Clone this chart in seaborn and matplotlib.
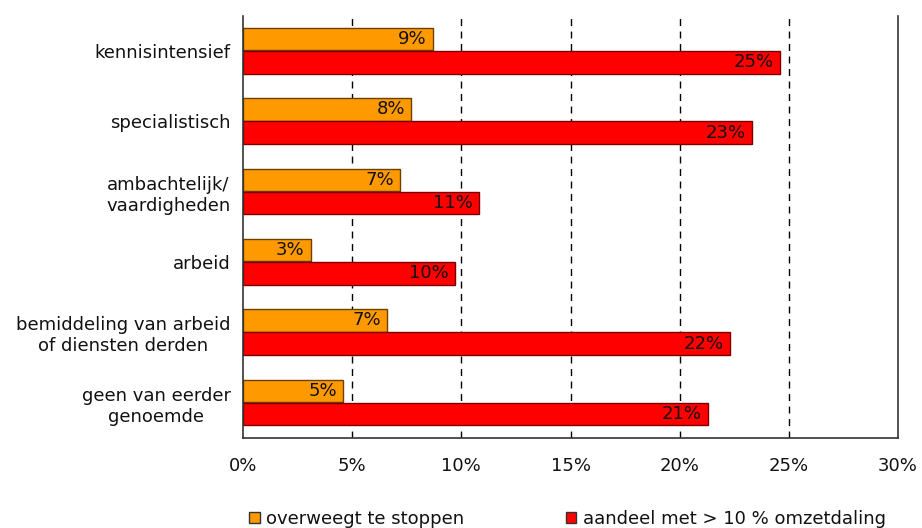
import matplotlib
matplotlib.use("Agg")
import matplotlib.pyplot as plt
import matplotlib.ticker as ticker
from matplotlib.patches import Patch
import seaborn as sns
import pandas as pd

# data
categories = ["kennisintensief", "specialistisch", "ambachtelijk/\nvaardigheden",
              "arbeid", "bemiddeling van arbeid\nof diensten derden",
              "geen van eerder\ngenoemde"]
stoppen = [8.7, 7.7, 7.2, 3.1, 6.6, 4.6]
omzetdaling = [24.6, 23.3, 10.8, 9.7, 22.3, 21.3]
series = ["overweegt te stoppen", "aandeel met > 10 % omzetdaling"]
xticks = [0, 5, 10, 15, 20, 25, 30]

df = pd.DataFrame({
    "cat": categories * 2,
    "serie": [series[0]] * len(categories) + [series[1]] * len(categories),
    "val": stoppen + omzetdaling,
})

palette = {series[0]: "#FF9900", series[1]: "#FF0000"}
edges = {series[0]: "#6b4000", series[1]: "#7a0000"}
txt = "#111111"

sns.set_style("white")
plt.rcParams['font.family'] = ['DejaVu Sans']
plt.rcParams['text.color'] = txt
plt.rcParams['xtick.color'] = "#333333"
plt.rcParams['ytick.color'] = "#333333"
plt.rcParams['xtick.labelcolor'] = txt
plt.rcParams['ytick.labelcolor'] = txt

fig = plt.figure(figsize=(9.22, 5.28), dpi=100)
ax = fig.add_axes([0.2636, 0.1705, 0.974 - 0.2636, 0.970 - 0.1705])

sns.barplot(data=df, y="cat", x="val", hue="serie", order=categories,
            hue_order=series, palette=palette, orient="h", width=0.66,
            legend=False, ax=ax, saturation=1)

# bar edges + value labels at the bar end
for cont, s in zip(ax.containers, series):
    for b in cont:
        b.set_edgecolor(edges[s])
        b.set_linewidth(1)
        b.set_height(b.get_height() * 0.97)
        ax.annotate("%d%%" % round(b.get_width()),
                    (b.get_x() + b.get_width(), b.get_y() + b.get_height() / 2),
                    xytext=(-4.5, 0), textcoords="offset points",
                    ha="right", va="center", fontsize=13, color=txt)

ax.set_xlim(0, 30)
ax.set_ylim(5.5, -0.5)
ax.set_xticks(xticks)
ax.set_xticklabels(["%d%%" % t for t in xticks], fontsize=13)
ax.tick_params(axis="x", direction="in", length=5, width=1, pad=14)
ax.tick_params(axis="y", which="major", length=0, pad=9, labelsize=13)
for lab in ax.get_yticklabels():
    lab.set_multialignment("center")
ax.yaxis.set_minor_locator(ticker.FixedLocator([-0.5, 0.5, 1.5, 2.5, 3.5, 4.5, 5.5]))
ax.tick_params(axis="y", which="minor", direction="out", length=5, width=1)

for t in xticks[1:-1]:
    ax.axvline(t, color="black", lw=1, ls=(0, (5, 4)), zorder=0)

ax.set_xlabel("")
ax.set_ylabel("")
ax.spines["top"].set_visible(False)
for sp in ["left", "bottom", "right"]:
    ax.spines[sp].set_color("#333333")
    ax.spines[sp].set_linewidth(1.2)

handles = [Patch(facecolor=palette[s], edgecolor="#333333", label=s) for s in series]
fig.legend(handles=handles, loc="center", bbox_to_anchor=(0.6155, 0.017), ncol=2,
           frameon=False, fontsize=13, handlelength=0.6, handleheight=0.6,
           handletextpad=0.35, columnspacing=5.6, borderpad=0, borderaxespad=0)

plt.savefig("out.png", dpi=100)
